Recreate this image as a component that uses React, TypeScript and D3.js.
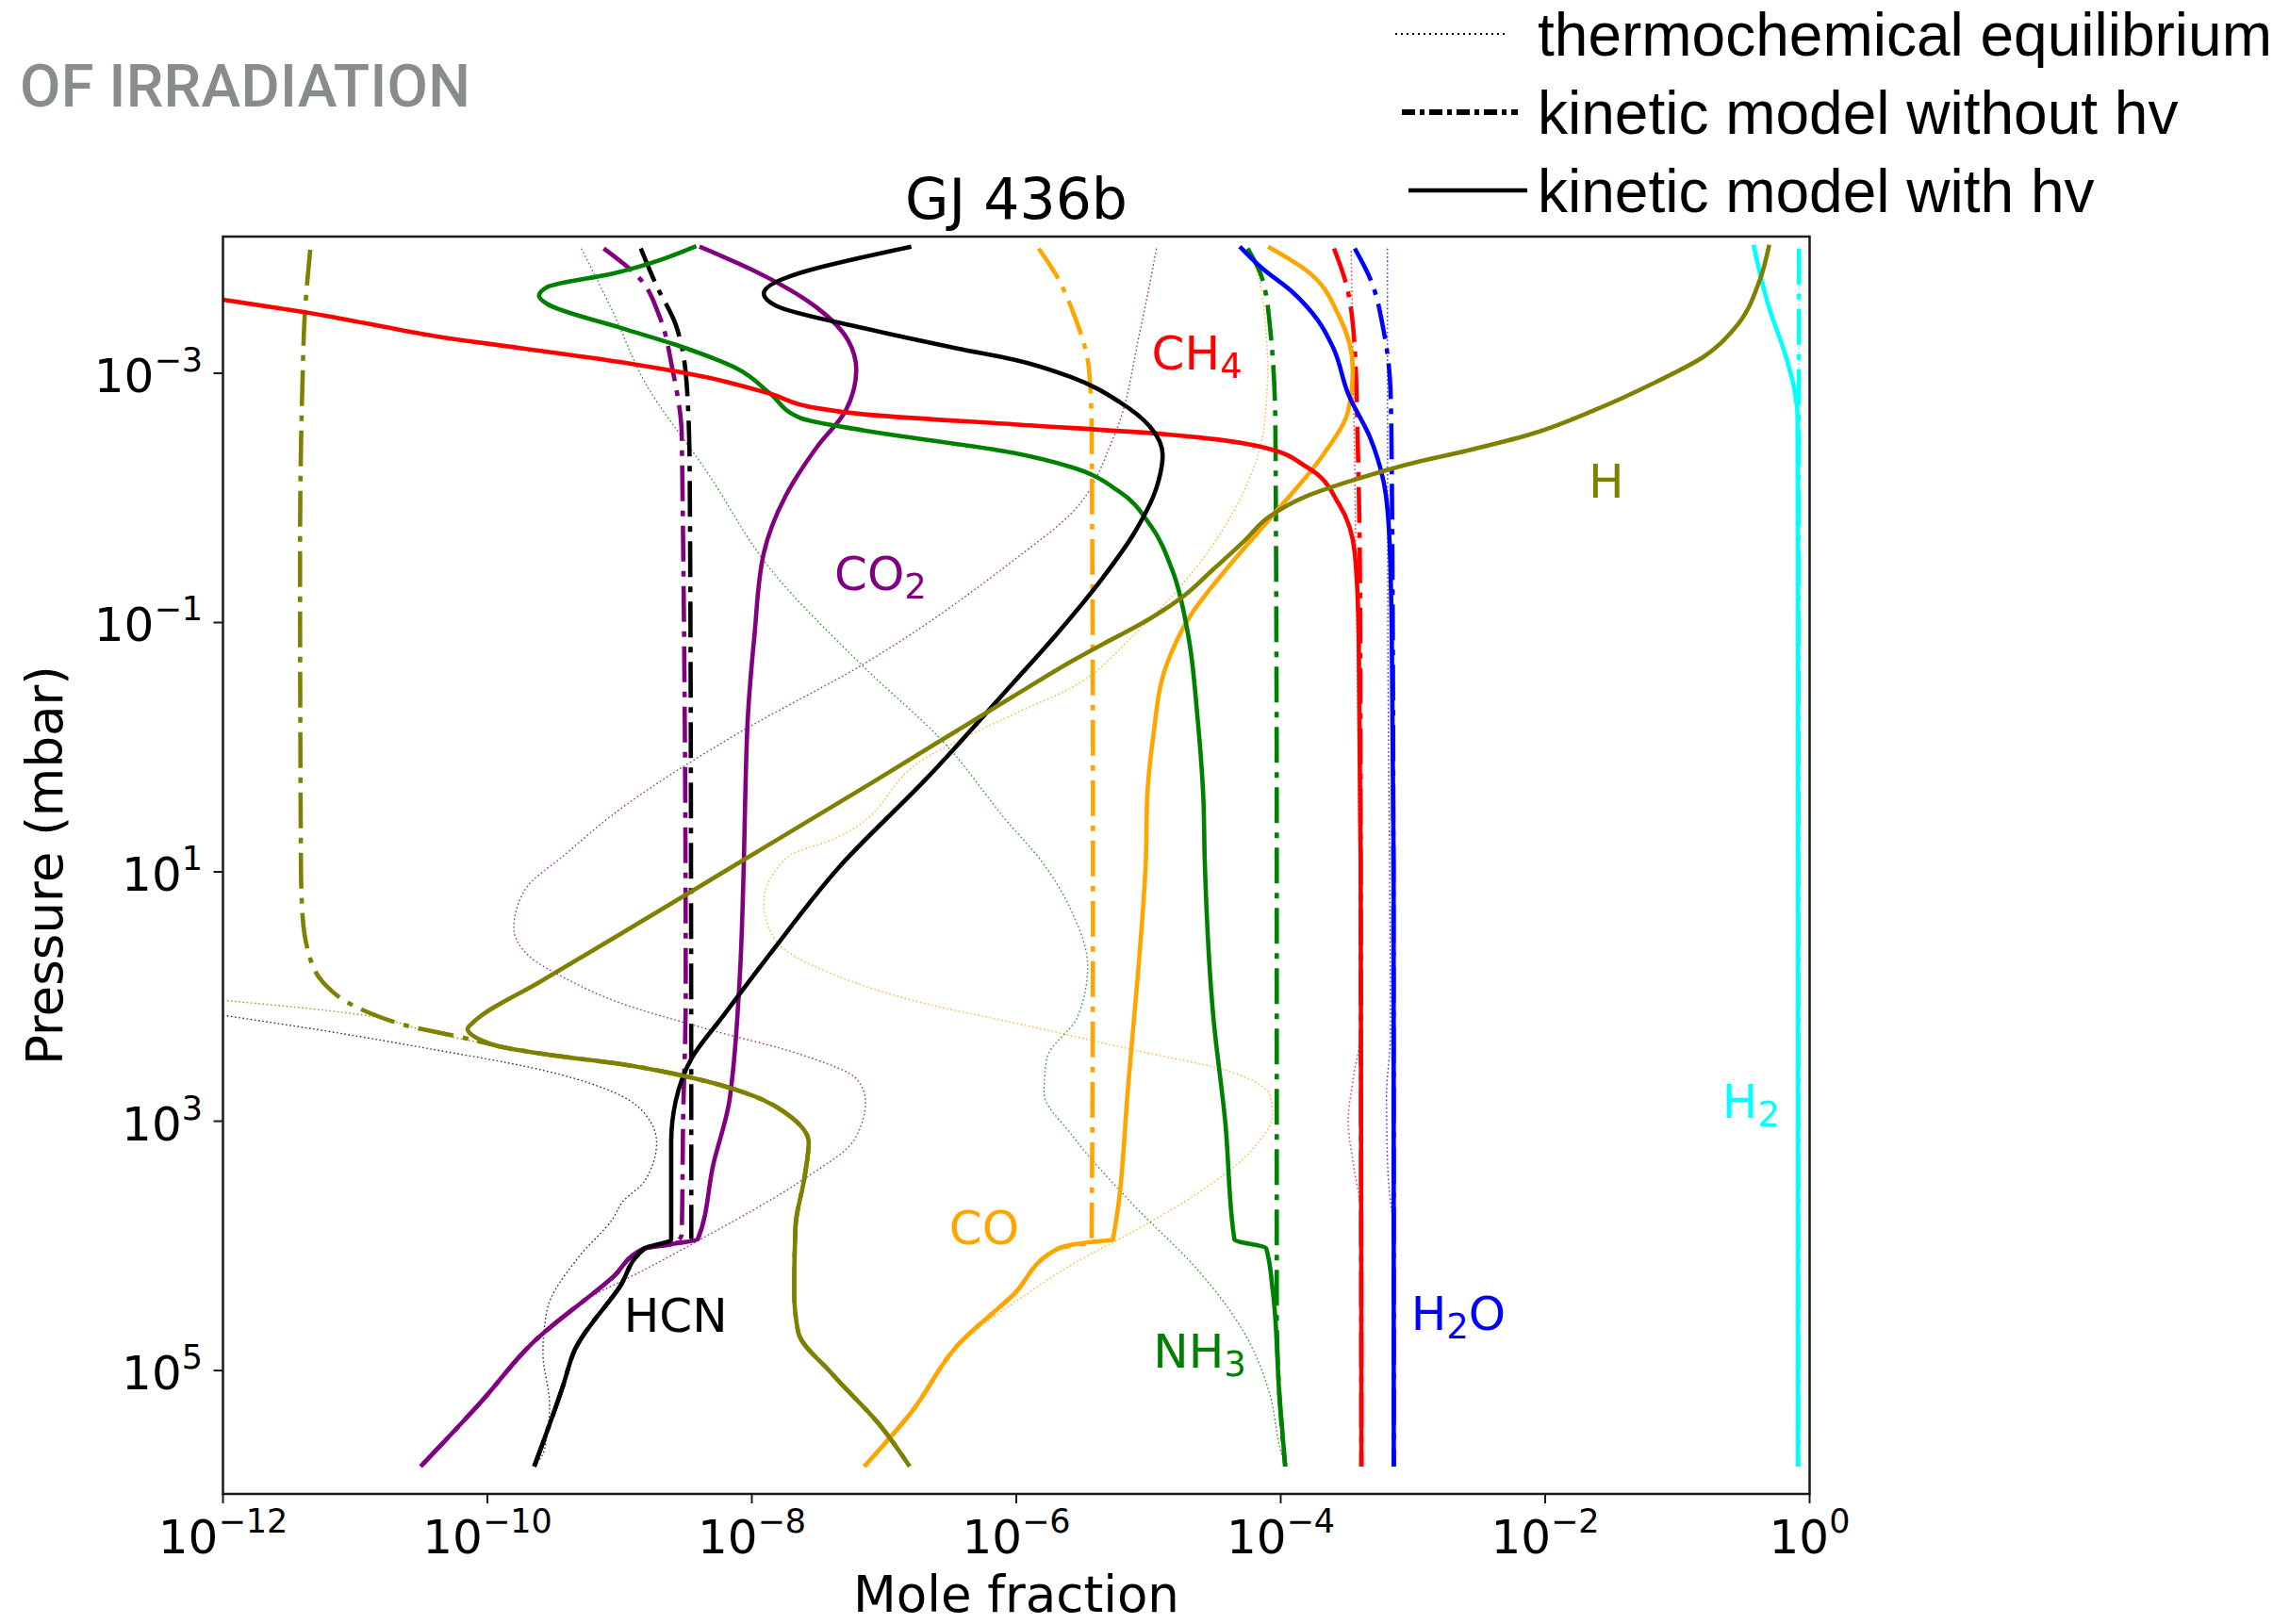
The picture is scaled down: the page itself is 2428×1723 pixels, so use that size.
import React from "react";
import * as d3 from "d3";

// Each point is [log10(mole fraction), log10(pressure / mbar)].
type Pt = [number, number];

const xTickExps = [-12, -10, -8, -6, -4, -2, 0];
const yTickExps = [-3, -1, 1, 3, 5];

// ---- H2 ----
const h2Eq: Pt[] = [[-0.08, -4.0], [-0.082, -2.6], [-0.086, 5.77]];
const h2NoHv: Pt[] = [[-0.08, -4.0], [-0.082, -2.6], [-0.086, 5.77]];
const h2Hv: Pt[] = [[-0.424, -4.03], [-0.305, -3.52], [-0.187, -3.16], [-0.115, -2.87], [-0.091, -2.64], [-0.088, -1.0], [-0.088, 5.77]];

// ---- H ----
const hDeep: Pt[] = [[-9.91, 2.4], [-9.55, 2.465], [-9.0, 2.54], [-8.46, 2.65], [-7.98, 2.8], [-7.7, 2.97], [-7.57, 3.17], [-7.6, 3.44], [-7.67, 3.85], [-7.68, 4.36], [-7.65, 4.69], [-7.39, 5.03], [-7.03, 5.44], [-6.806, 5.77]];
const hHvUpper: Pt[] = [[-0.305, -4.03], [-0.376, -3.75], [-0.567, -3.36], [-0.804, -3.13], [-1.161, -2.93], [-1.636, -2.7], [-2.112, -2.51], [-2.587, -2.38], [-3.0, -2.28], [-3.44, -2.146], [-3.8, -2.015], [-4.084, -1.851], [-4.275, -1.655], [-4.512, -1.425], [-4.75, -1.2], [-4.93, -1.07], [-5.107, -0.96], [-5.34, -0.83], [-5.58, -0.69], [-6.02, -0.41], [-7.1, 0.29], [-8.15, 0.96], [-8.98, 1.49], [-9.6, 1.88], [-10.1, 2.2], [-10.15, 2.26], [-10.1, 2.32]];
const hNoHvUpper: Pt[] = [[-11.34, -3.99], [-11.38, -3.49], [-11.4, -2.87], [-11.417, -1.556], [-11.41, 0.96], [-11.4, 1.32], [-11.36, 1.62], [-11.24, 1.89], [-10.98, 2.09], [-10.62, 2.23], [-10.1, 2.35]];
const hEqUpper: Pt[] = [[-12.0, 2.03], [-11.0, 2.14], [-10.38, 2.3], [-10.1, 2.36]];

// ---- HCN ----
const hcnDeep: Pt[] = [[-8.81, 4.02], [-9.0, 4.33], [-9.337, 4.83], [-9.43, 5.13], [-9.646, 5.77]];
const hcnHvUpper: Pt[] = [[-6.794, -4.015], [-7.91, -3.64], [-7.816, -3.54], [-7.15, -3.36], [-6.437, -3.197], [-6.02, -3.11], [-5.58, -2.967], [-5.22, -2.77], [-4.99, -2.573], [-4.893, -2.344], [-4.94, -2.08], [-5.107, -1.72], [-5.345, -1.36], [-5.7, -0.9], [-6.02, -0.52], [-6.675, 0.247], [-7.34, 0.962], [-7.86, 1.655], [-8.22, 2.16], [-8.458, 2.5], [-8.576, 2.84], [-8.61, 3.17], [-8.61, 3.95]];
const hcnNoHvUpper: Pt[] = [[-8.84, -4.0], [-8.72, -3.7], [-8.576, -3.39], [-8.49, -2.87], [-8.47, -2.21], [-8.46, 0.96], [-8.458, 3.95]];
const hcnEq: Pt[] = [[-12.0, 2.15], [-11.2, 2.28], [-10.38, 2.43], [-9.67, 2.57], [-8.98, 2.8], [-8.81, 2.94], [-8.72, 3.17], [-8.81, 3.48], [-8.98, 3.65], [-9.05, 3.78], [-9.31, 4.09], [-9.55, 4.52], [-9.58, 4.86], [-9.53, 5.27], [-9.57, 5.64], [-9.65, 5.77]];

// ---- CO2 ----
const co2Deep: Pt[] = [[-8.576, 3.98], [-8.81, 4.02], [-9.05, 4.25], [-9.67, 4.79], [-10.03, 5.23], [-10.505, 5.77]];
const co2HvUpper: Pt[] = [[-8.396, -4.015], [-7.98, -3.82], [-7.506, -3.524], [-7.27, -3.26], [-7.21, -3.03], [-7.29, -2.7], [-7.506, -2.41], [-7.745, -2.015], [-7.91, -1.556], [-7.98, -0.9], [-8.03, -0.245], [-8.05, 0.41], [-8.06, 0.9], [-8.09, 1.82], [-8.15, 2.67], [-8.17, 2.84], [-8.29, 3.34], [-8.41, 3.95]];
const co2NoHvUpper: Pt[] = [[-9.12, -4.0], [-8.84, -3.75], [-8.7, -3.46], [-8.6, -3.03], [-8.53, -2.5], [-8.5, 2.0], [-8.52, 3.0], [-8.53, 3.9]];
const co2Eq: Pt[] = [[-4.94, -4.0], [-5.06, -3.36], [-5.27, -2.47], [-5.58, -1.88], [-6.02, -1.5], [-7.15, -0.67], [-8.1, -0.114], [-9.05, 0.54], [-9.4, 0.85], [-9.72, 1.15], [-9.8, 1.45], [-9.68, 1.68], [-9.4, 1.86], [-9.0, 2.05], [-8.34, 2.26], [-7.63, 2.465], [-7.2, 2.67], [-7.14, 2.84], [-7.22, 3.14], [-7.63, 3.48], [-8.34, 3.92], [-8.81, 4.19], [-9.2, 4.4], [-9.67, 4.79], [-10.03, 5.23], [-10.505, 5.77]];

// ---- CO ----
const coDeep: Pt[] = [[-5.44, 3.97], [-5.68, 4.02], [-6.02, 4.39], [-6.437, 4.79], [-6.79, 5.33], [-7.15, 5.77]];
const coHvUpper: Pt[] = [[-4.096, -4.015], [-3.8, -3.82], [-3.56, -3.46], [-3.455, -3.03], [-3.49, -2.7], [-3.68, -2.344], [-4.04, -1.884], [-4.39, -1.455], [-4.68, -1.06], [-4.87, -0.64], [-4.965, -0.08], [-5.01, 0.41], [-5.02, 0.9], [-5.08, 1.82], [-5.15, 2.67], [-5.27, 3.95]];
const coNoHvUpper: Pt[] = [[-5.83, -4.0], [-5.7, -3.79], [-5.56, -3.46], [-5.45, -3.03], [-5.43, -2.54], [-5.42, 0.96], [-5.43, 3.94]];
const coEq: Pt[] = [[-4.25, -4.0], [-4.15, -3.69], [-4.1, -3.03], [-4.13, -2.54], [-4.28, -2.05], [-4.63, -1.455], [-5.11, -0.9], [-5.58, -0.48], [-6.06, -0.245], [-6.675, 0.08], [-7.39, 0.74], [-7.73, 0.88], [-7.91, 1.25], [-7.82, 1.55], [-7.39, 1.82], [-6.675, 2.06], [-6.02, 2.21], [-5.107, 2.43], [-4.39, 2.6], [-4.08, 2.8], [-4.06, 2.94], [-4.2, 3.21], [-4.63, 3.58], [-5.107, 3.88], [-5.58, 4.15], [-5.94, 4.4], [-6.437, 4.79], [-6.79, 5.33], [-7.15, 5.77]];

// ---- NH3 ----
const nh3Hv: Pt[] = [[-8.42, -4.02], [-9.05, -3.8], [-9.55, -3.69], [-9.61, -3.62], [-9.55, -3.557], [-8.98, -3.36], [-8.576, -3.228], [-8.1, -3.03], [-7.86, -2.835], [-7.63, -2.64], [-7.15, -2.54], [-6.02, -2.36], [-5.58, -2.245], [-5.22, -2.05], [-4.99, -1.787], [-4.82, -1.42], [-4.7, -0.9], [-4.63, -0.245], [-4.585, 0.41], [-4.575, 0.9], [-4.51, 2.16], [-4.42, 3.0], [-4.35, 3.95], [-4.11, 4.02], [-4.06, 4.36], [-4.01, 5.2], [-3.966, 5.77]];
const nh3NoHv: Pt[] = [[-4.25, -4.0], [-4.15, -3.79], [-4.08, -3.36], [-4.04, -2.54], [-4.03, 0.96], [-4.03, 4.5], [-4.01, 5.2], [-3.966, 5.77]];
const nh3Eq: Pt[] = [[-9.29, -4.0], [-9.05, -3.49], [-8.81, -2.93], [-8.34, -2.21], [-7.86, -1.43], [-7.15, -0.64], [-6.556, -0.048], [-6.06, 0.607], [-5.82, 0.9], [-5.58, 1.32], [-5.46, 1.76], [-5.535, 2.16], [-5.77, 2.5], [-5.79, 2.77], [-5.58, 3.11], [-5.107, 3.68], [-4.63, 4.19], [-4.28, 4.69], [-4.08, 5.2], [-4.01, 5.6], [-3.966, 5.77]];

// ---- CH4 ----
const ch4Hv: Pt[] = [[-12.0, -3.59], [-11.38, -3.49], [-10.38, -3.295], [-9.0, -3.09], [-8.34, -2.967], [-7.86, -2.835], [-7.506, -2.72], [-7.15, -2.67], [-6.02, -2.59], [-4.87, -2.51], [-4.15, -2.41], [-3.8, -2.245], [-3.56, -1.95], [-3.44, -1.557], [-3.41, -0.9], [-3.395, 0.96], [-3.39, 5.77]];
const ch4NoHv: Pt[] = [[-3.597, -4.0], [-3.514, -3.75], [-3.44, -3.197], [-3.42, -2.54], [-3.4, -1.23], [-3.39, 5.77]];
const ch4Eq: Pt[] = [[-3.467, -3.98], [-3.44, -2.21], [-3.41, 0.5], [-3.4, 2.3], [-3.45, 2.65], [-3.49, 3.0], [-3.45, 3.35], [-3.4, 3.7], [-3.39, 5.77]];

// ---- H2O ----
const h2oHv: Pt[] = [[-4.31, -4.015], [-4.15, -3.85], [-3.91, -3.65], [-3.72, -3.426], [-3.6, -3.197], [-3.49, -2.835], [-3.32, -2.474], [-3.225, -2.146], [-3.18, -1.72], [-3.16, -0.9], [-3.146, 0.96], [-3.145, 5.77]];
const h2oNoHv: Pt[] = [[-3.44, -4.0], [-3.32, -3.75], [-3.225, -3.36], [-3.17, -2.87], [-3.16, -2.21], [-3.148, 0.96], [-3.145, 5.77]];
const h2oEq: Pt[] = [[-3.193, -4.0], [-3.19, -1.0], [-3.17, 2.3], [-3.2, 2.8], [-3.19, 3.4], [-3.15, 3.9], [-3.145, 5.77]];

const species = [
  { name: "H2", color: "#00ffff", eq: h2Eq, noHv: h2NoHv, hv: h2Hv },
  { name: "CO", color: "#ffa500", eq: coEq, noHv: [...coNoHvUpper, ...coDeep], hv: [...coHvUpper, ...coDeep] },
  { name: "CO2", color: "#800080", eq: co2Eq, noHv: [...co2NoHvUpper, ...co2Deep], hv: [...co2HvUpper, ...co2Deep] },
  { name: "NH3", color: "#008000", eq: nh3Eq, noHv: nh3NoHv, hv: nh3Hv },
  { name: "CH4", color: "#ff0000", eq: ch4Eq, noHv: ch4NoHv, hv: ch4Hv },
  { name: "H2O", color: "#0000ff", eq: h2oEq, noHv: h2oNoHv, hv: h2oHv },
  { name: "HCN", color: "#000000", eq: hcnEq, noHv: [...hcnNoHvUpper, ...hcnDeep], hv: [...hcnHvUpper, ...hcnDeep] },
  { name: "H", color: "#808000", eq: [...hEqUpper, ...hDeep], noHv: [...hNoHvUpper, ...hDeep], hv: [...hHvUpper, ...hDeep] },
];

// Species labels: base text, subscript, trailing text, anchor position (log units).
const speciesLabels = [
  { base: "CH", sub: "4", tail: "", color: "#ff0000", lx: -4.976, lp: -3.03 },
  { base: "CO", sub: "2", tail: "", color: "#800080", lx: -7.376, lp: -1.261 },
  { base: "H", sub: "", tail: "", color: "#808000", lx: -1.672, lp: -2.0 },
  { base: "H", sub: "2", tail: "", color: "#00ffff", lx: -0.662, lp: 2.971 },
  { base: "CO", sub: "", tail: "", color: "#ffa500", lx: -6.508, lp: 3.984 },
  { base: "HCN", sub: "", tail: "", color: "#000000", lx: -8.968, lp: 4.693 },
  { base: "NH", sub: "3", tail: "", color: "#008000", lx: -4.964, lp: 4.98 },
  { base: "H", sub: "2", tail: "O", color: "#0000ff", lx: -3.015, lp: 4.676 },
];

const legendRows = [
  { label: "thermochemical equilibrium", kind: "eq" },
  { label: "kinetic model without hv", kind: "noHv" },
  { label: "kinetic model with hv", kind: "hv" },
];

const styles: Record<string, { width: number; dash?: string; opacity: number }> = {
  eq: { width: 1.4, dash: "1.6 2.6", opacity: 0.8 },
  noHv: { width: 4.6, dash: "38 10 6 10", opacity: 1 },
  hv: { width: 4.6, opacity: 1 },
};

const W = 2428;
const H = 1723;
const plot = { left: 236.5, right: 1919.5, top: 251, bottom: 1585 };
const AXIS_FONT = "'DejaVu Sans', sans-serif";

const minus = (e: number) => (e < 0 ? "\u2212" + -e : String(e));

export default function App() {
  const x = d3.scaleLog().domain([1e-12, 1]).range([plot.left, plot.right]);
  const y = d3.scaleLog().domain([10 ** -4.096, 10 ** 5.99]).range([plot.top, plot.bottom]);
  // profiles are single-valued in pressure, so interpolate monotonically along the pressure axis
  const line = d3
    .line<Pt>()
    .x((d) => x(10 ** d[0]))
    .y((d) => y(10 ** d[1]))
    .curve(d3.curveMonotoneY);

  const kinds = ["eq", "noHv", "hv"] as const;

  return (
    <svg
      width={W}
      height={H}
      viewBox={`0 0 ${W} ${H}`}
      style={{ position: "absolute", left: 0, top: 0, display: "block", background: "#fff" }}
    >
      <defs>
        <clipPath id="plotClip">
          <rect x={plot.left} y={plot.top} width={plot.right - plot.left} height={plot.bottom - plot.top} />
        </clipPath>
      </defs>

      <text
        x={21}
        y={113}
        fontFamily="Roboto, 'DejaVu Sans', sans-serif"
        fontWeight={500}
        fontSize={63}
        fill="#888c8c"
        textLength={478}
        lengthAdjust="spacing"
      >
        OF IRRADIATION
      </text>

      {/* curves */}
      <g clipPath="url(#plotClip)" fill="none" strokeLinejoin="round">
        {kinds.map((k) =>
          species.map((s) => (
            <path
              key={s.name + k}
              d={line(s[k] as Pt[]) || ""}
              stroke={s.color}
              strokeWidth={styles[k].width}
              strokeDasharray={styles[k].dash}
              strokeOpacity={styles[k].opacity}
              strokeLinecap="butt"
            />
          ))
        )}
      </g>

      {/* frame */}
      <rect
        x={plot.left}
        y={plot.top}
        width={plot.right - plot.left}
        height={plot.bottom - plot.top}
        fill="none"
        stroke="#1a1a1a"
        strokeWidth={2.5}
      />

      {/* x ticks */}
      {xTickExps.map((e) => {
        const px = x(10 ** e);
        return (
          <g key={"x" + e}>
            <line x1={px} x2={px} y1={plot.bottom} y2={plot.bottom + 10} stroke="#1a1a1a" strokeWidth={2} />
            <text x={px} y={1648} textAnchor="middle" fontFamily={AXIS_FONT} fontSize={50} fill="#000">
              <tspan>10</tspan>
              <tspan dy={-22} fontSize={35}>{minus(e)}</tspan>
            </text>
          </g>
        );
      })}

      {/* y ticks */}
      {yTickExps.map((e) => {
        const py = y(10 ** e);
        return (
          <g key={"y" + e}>
            <line x1={plot.left - 10} x2={plot.left} y1={py} y2={py} stroke="#1a1a1a" strokeWidth={2} />
            <text x={215} y={py + 20} textAnchor="end" fontFamily={AXIS_FONT} fontSize={50} fill="#000">
              <tspan>10</tspan>
              <tspan dy={-22} fontSize={35}>{minus(e)}</tspan>
            </text>
          </g>
        );
      })}

      {/* axis titles */}
      <text x={(plot.left + plot.right) / 2} y={1710} textAnchor="middle" fontFamily={AXIS_FONT} fontSize={53}>
        Mole fraction
      </text>
      <text
        transform={`translate(66, ${(plot.top + plot.bottom) / 2}) rotate(-90)`}
        textAnchor="middle"
        fontFamily={AXIS_FONT}
        fontSize={53}
      >
        Pressure (mbar)
      </text>
      <text x={(plot.left + plot.right) / 2} y={232} textAnchor="middle" fontFamily={AXIS_FONT} fontSize={60}>
        GJ 436b
      </text>

      {/* species labels */}
      {speciesLabels.map((l, i) => (
        <text key={i} x={x(10 ** l.lx)} y={y(10 ** l.lp)} fontFamily={AXIS_FONT} fontSize={50} fill={l.color}>
          <tspan>{l.base}</tspan>
          {l.sub && (
            <tspan dy={9} fontSize={37}>
              {l.sub}
            </tspan>
          )}
          {l.tail && (
            <tspan dy={-9} fontSize={50}>
              {l.tail}
            </tspan>
          )}
        </text>
      ))}

      {/* legend */}
      {legendRows.map((r, i) => {
        const base = 59 + i * 83;
        const hy = base - 23;
        const k = r.kind;
        return (
          <g key={r.label}>
            <line
              x1={1480 + i * 7}
              x2={1600 + i * 10}
              y1={hy}
              y2={hy}
              stroke="#000"
              strokeWidth={k === "eq" ? 2 : k === "noHv" ? 6 : 4.5}
              strokeDasharray={k === "eq" ? "2 4" : k === "noHv" ? "14 5 5 5" : undefined}
            />
            <text x={1631} y={base} fontFamily="'Liberation Sans', Arial, sans-serif" fontSize={64} fill="#000">
              {r.label}
            </text>
          </g>
        );
      })}
    </svg>
  );
}
